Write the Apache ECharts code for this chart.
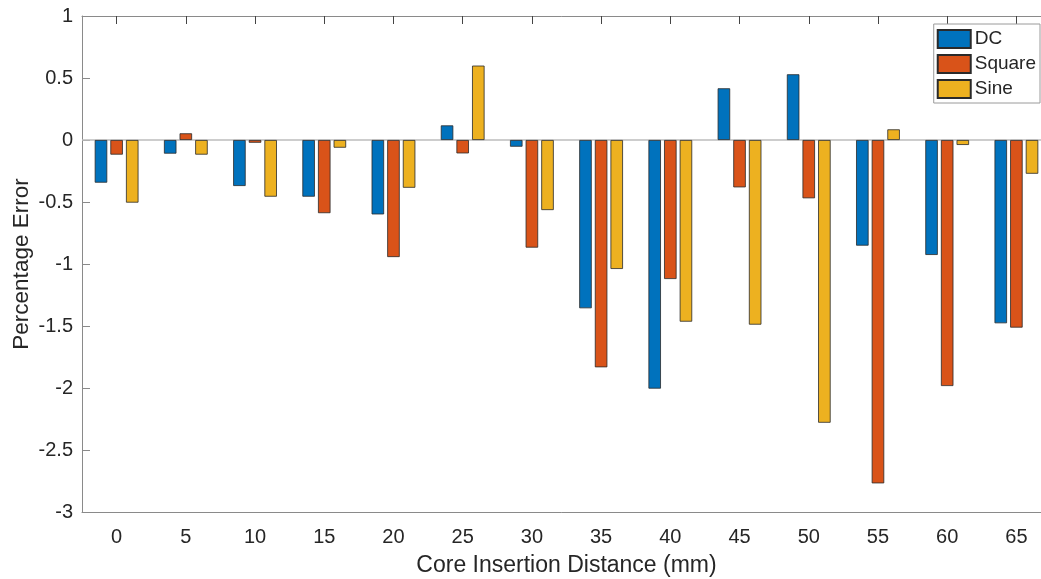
<!DOCTYPE html>
<html>
<head>
<meta charset="utf-8">
<script src="https://cdn.jsdelivr.net/npm/echarts@6/dist/echarts.min.js"></script>
<style>
html,body{margin:0;padding:0;background:#fff;overflow:hidden;}
#chart{width:1041px;height:579px;}
</style>
</head>
<body>
<div id="chart"></div>
<script>
const categories = ['0','5','10','15','20','25','30','35','40','45','50','55','60','65'];
const dcValues     = [-0.344, -0.11, -0.371, -0.457, -0.60, 0.118, -0.054, -1.357, -2.005, 0.417, 0.53, -0.852, -0.927, -1.478];
const squareValues = [-0.118, 0.054, -0.022, -0.59, -0.944, -0.108, -0.868, -1.833, -1.121, -0.382, -0.47, -2.769, -1.984, -1.513];
const sineValues   = [-0.505, -0.118, -0.457, -0.062, -0.385, 0.60, -0.565, -1.04, -1.465, -1.489, -2.28, 0.086, -0.04, -0.272];
const seriesNames = ['DC', 'Square', 'Sine'];
const colors = ['#0072BD', '#D95319', '#EDB120'];

const chart = echarts.init(document.getElementById('chart'));
const font = 'Liberation Sans, Arial, Helvetica, sans-serif';
const textColor = '#262626';
const axisColor = '#8a8a8a';

function mkSeries(name, data, i) {
  const s = {
    name: name,
    type: 'bar',
    data: data,
    barWidth: 12.5,
    barGap: '25%',
    itemStyle: { color: colors[i], borderColor: '#2a2a2a', borderWidth: 0.8 },
    emphasis: { disabled: true }
  };
  if (i === 0) {
    s.markLine = {
      silent: true,
      symbol: 'none',
      label: { show: false },
      lineStyle: { color: '#bdbdbd', width: 1.5, type: 'solid' },
      data: [{ yAxis: 0 }],
      z: 1
    };
  }
  return s;
}

chart.setOption({
  backgroundColor: '#fff',
  animation: false,
  textStyle: { fontFamily: font },
  legend: {
    orient: 'vertical',
    right: 1,
    top: 24,
    itemWidth: 33,
    itemHeight: 18,
    itemGap: 5,
    padding: [5, 4, 4, 3],
    borderColor: '#9a9a9a',
    borderWidth: 1,
    backgroundColor: '#fff',
    icon: 'rect',
    textStyle: { fontSize: 19, lineHeight: 18, color: textColor, fontFamily: font, padding: [0, 0, 0, -1] },
    data: seriesNames
  },
  grid: { left: 82, width: 969, top: 16, bottom: 67, containLabel: false, outerBoundsMode: 'none' },
  xAxis: [{
    type: 'category',
    data: categories,
    position: 'bottom',
    name: 'Core Insertion Distance (mm)',
    nameLocation: 'middle',
    nameGap: 42,
    nameMoveOverlap: false,
    nameTextStyle: { fontSize: 23, color: textColor, fontFamily: font },
    axisLine: { onZero: false, lineStyle: { color: axisColor, width: 1 } },
    axisTick: { inside: true, alignWithLabel: true, length: 8, lineStyle: { color: '#444' } },
    axisLabel: { fontSize: 20, color: textColor, margin: 15, fontFamily: font },
    splitLine: { show: false }
  }, {
    type: 'category',
    data: categories,
    position: 'top',
    axisLine: { onZero: false, lineStyle: { color: axisColor, width: 1 } },
    axisTick: { show: true, inside: true, alignWithLabel: true, length: 8, lineStyle: { color: '#444' } },
    axisLabel: { show: false },
    splitLine: { show: false }
  }],
  yAxis: [{
    type: 'value',
    min: -3,
    max: 1,
    interval: 0.5,
    name: 'Percentage Error',
    nameLocation: 'middle',
    nameGap: 49,
    nameMoveOverlap: false,
    nameRotate: 90,
    nameTextStyle: { fontSize: 22.5, color: textColor, fontFamily: font },
    axisLine: { show: true, lineStyle: { color: axisColor, width: 1 } },
    axisTick: { show: true, inside: true, length: 8, lineStyle: { color: axisColor } },
    axisLabel: { fontSize: 20, color: textColor, margin: 9, fontFamily: font },
    splitLine: { show: false }
  }, {
    type: 'value',
    min: -3,
    max: 1,
    interval: 0.5,
    position: 'right',
    axisLine: { show: true, lineStyle: { color: axisColor, width: 1 } },
    axisTick: { show: true, inside: true, length: 8, lineStyle: { color: axisColor } },
    axisLabel: { show: false },
    splitLine: { show: false }
  }],
  series: [
    mkSeries(seriesNames[0], dcValues, 0),
    mkSeries(seriesNames[1], squareValues, 1),
    mkSeries(seriesNames[2], sineValues, 2)
  ]
});
</script>
</body>
</html>
